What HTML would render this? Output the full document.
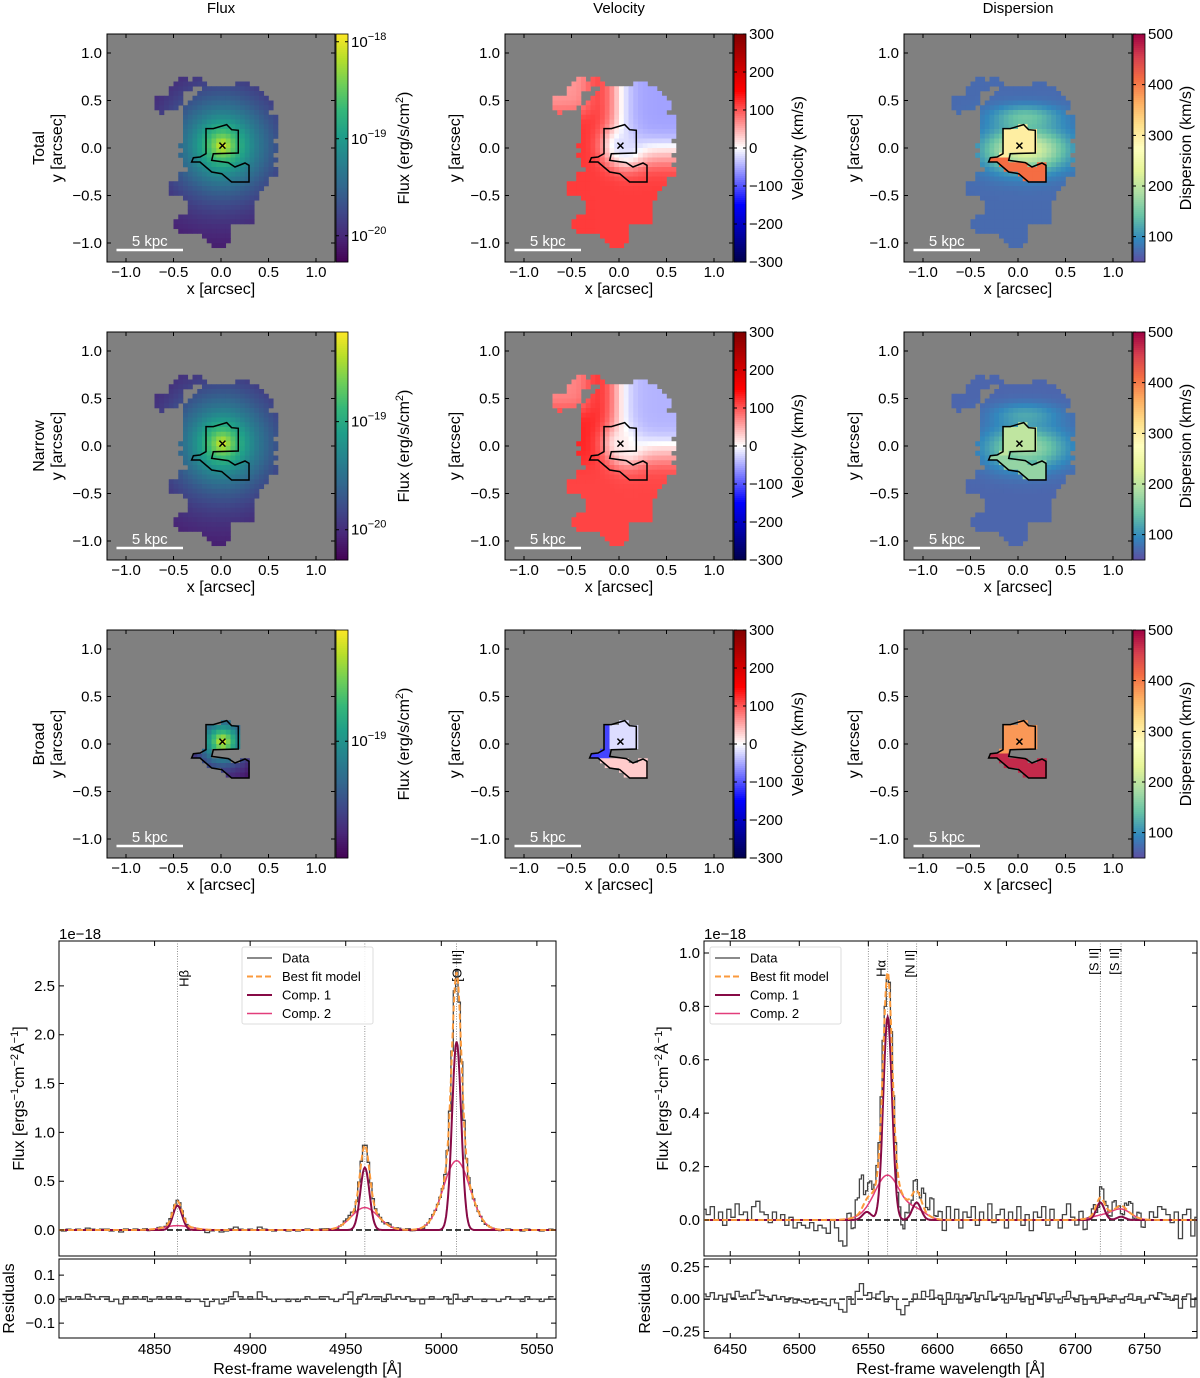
<!DOCTYPE html>
<html><head><meta charset="utf-8"><style>
html,body{margin:0;padding:0;background:#fff;}
svg{display:block;font-family:"Liberation Sans",sans-serif;}
</style></head><body>
<svg id="fig" xmlns="http://www.w3.org/2000/svg" width="1200" height="1378" viewBox="0 0 1200 1378">
<rect x="0" y="0" width="1200" height="1378" fill="#fff"/>
<defs>
<clipPath id="clipL"><rect x="59" y="941" width="497" height="315"/></clipPath>
<clipPath id="clipR"><rect x="704" y="941" width="493" height="315"/></clipPath>
<clipPath id="clipLr"><rect x="59" y="1259" width="497" height="79"/></clipPath>
<clipPath id="clipRr"><rect x="704" y="1259" width="493" height="79"/></clipPath>
</defs>
</svg>
<script>
// ---------------- DATA ----------------
const MASK_ROW_START = 9;
const MASK_RUNS = [
 [[15,16],[18,19]],
 [[14,17],[18,20],[27,29]],
 [[13,17],[20,31]],
 [[13,15],[19,32]],
 [[10,15],[18,33]],
 [[10,15],[17,34]],
 [[10,14],[16,34]],
 [[11,11],[16,33]],
 [[16,35]],[[16,35]],[[16,35]],[[16,35]],[[16,35]],
 [[16,34]],[[15,35]],[[16,35]],[[15,34]],[[16,35]],[[16,34]],[[17,35]],
 [[15,35]],[[15,33]],[[13,33]],[[13,32]],[[13,31]],[[16,31]],
 [[17,30]],[[17,30]],[[17,30]],[[15,30]],[[14,30]],[[14,25]],[[15,25]],
 [[20,25]],[[21,25]],[[22,24]]
];
const CONTOUR_X = [-0.158,-0.081,0.060,0.112,0.182,0.182,-0.081,-0.098,0.077,0.147,0.253,0.295,0.295,0.112,0.007,-0.098,-0.221,-0.309,-0.291,-0.221,-0.158];
const CONTOUR_Y = [0.204,0.204,0.246,0.193,0.186,-0.053,-0.060,-0.130,-0.154,-0.200,-0.158,-0.182,-0.358,-0.358,-0.270,-0.253,-0.147,-0.147,-0.102,-0.095,-0.060];
const CENTER = [0.015, 0.025];
const FLUX_PROFILE_TOTAL = [-20.25, -17.98, 0.42, 1.0];
const FLUX_PROFILE_NARROW = [-20.25, -18.25, 0.42, 1.0];
const FLUX_PROFILE_BROAD = [-19.65, -18.45, 0.22, 1.3];
const FLUX_CB_RANGES = [[-20.27,-17.92],[-20.28,-18.17],[-19.63,-18.4]];
const FLUX_TICKS = [[-18,-19,-20],[-19,-20],[-19]];
// velocity: lower, upper-left, arm, upper-right, center
const VEL_TOTAL = [115, 120, 60, -55, -20];
const VEL_NARROW = [110, 130, 70, -45, 10];
const VEL_BROAD = [-110, -20, 30];
const VEL_TICKS = [300,200,100,0,-100,-200,-300];
// dispersion: base, upper belt, central band, inside contour, contour tail
const DISP_TOTAL = [72, 140, 230, 300, 410];
const DISP_NARROW = [68, 115, 175, 200, 170];
const DISP_BROAD = [380, 470];
const DISP_TICKS = [100,200,300,400,500];
const MAP_TICKS = [-1.0,-0.5,0.0,0.5,1.0];
const MAP_TICK_LABELS = ["\u22121.0","\u22120.5","0.0","0.5","1.0"];

const L_LINES = [4862, 4960, 5008];
const L_COMP1_AMP = [0.25, 0.64, 1.93];
const L_COMP2_AMP = [0.045, 0.23, 0.71];
const L_COMP1_SIG = [2.4, 2.4, 2.4];
const L_COMP2_SIG = [7.0, 7.0, 7.0];
const L_MARK_WL = [4862, 4960, 5008];
const L_MARK_LABELS = ["H\u03b2", "", "[O III]"];
const L_XTICKS = [4850, 4900, 4950, 5000, 5050];
const L_YTICKS = [0.0, 0.5, 1.0, 1.5, 2.0, 2.5];
const L_RTICKS = [-0.1, 0.0, 0.1];
const L_RES_START = 4800, L_RES_STEP = 2.5;
const L_RESID = [0.00,-0.01,0.01,0.00,0.01,0.00,0.02,0.01,0.00,0.01,
0.01,-0.01,0.00,-0.02,0.01,0.00,0.01,0.00,0.01,-0.01,
0.00,0.01,0.00,0.01,0.00,0.01,0.00,-0.01,0.00,0.00,
-0.01,-0.03,-0.01,0.00,-0.02,-0.01,0.01,0.03,0.01,0.00,
0.01,0.00,0.03,0.01,0.00,-0.01,0.00,0.00,-0.01,0.00,
-0.01,0.00,0.01,0.00,0.00,0.01,0.01,0.00,-0.01,0.00,
0.02,0.03,-0.02,0.01,0.02,0.00,0.01,0.01,-0.01,0.02,
0.00,0.01,0.00,0.01,-0.01,0.00,-0.02,0.00,0.01,0.00,
0.00,0.01,-0.02,0.02,0.00,-0.01,0.01,0.00,0.00,-0.01,
0.00,0.00,-0.01,0.00,0.01,0.00,0.00,-0.01,0.01,0.00,
0.00,-0.01,0.00,0.01];

const R_LINES = [6549, 6564, 6585, 6718, 6733];
const R_COMP1_AMP = [0.03, 0.76, 0.065, 0.065, 0.012];
const R_COMP2_AMP = [0.01, 0.165, 0.035, 0.015, 0.04];
const R_COMP1_SIG = [3.2, 3.2, 3.2, 3.0, 3.0];
const R_COMP2_SIG = [9.0, 9.0, 7.0, 7.0, 7.0];
const R_MARK_WL = [6550, 6564, 6585, 6718, 6733];
const R_MARK_LABELS = ["", "H\u03b1", "[N II]", "[S II]", "[S II]"];
const R_XTICKS = [6450, 6500, 6550, 6600, 6650, 6700, 6750];
const R_YTICKS = [0.0, 0.2, 0.4, 0.6, 0.8, 1.0];
const R_RTICKS = [-0.25, 0.0, 0.25];
const R_RES_START = 6431, R_RES_STEP = 3;
const R_RESID = [0.04,0.02,0.05,0.00,0.03,-0.02,0.04,0.01,0.06,0.02,
0.03,0.00,0.05,0.07,0.03,0.02,-0.01,0.03,0.00,0.02,
-0.02,0.01,-0.03,-0.01,-0.02,-0.03,-0.01,-0.04,-0.02,-0.03,
-0.05,0.00,-0.03,-0.08,-0.10,0.02,-0.04,0.06,0.12,0.03,
0.05,0.01,0.04,0.06,-0.02,0.02,0.00,-0.08,-0.12,-0.05,
-0.02,0.04,0.00,0.06,0.02,0.07,0.01,0.03,-0.04,0.05,
0.00,0.04,-0.03,0.03,0.01,0.05,-0.02,0.03,0.00,0.06,
-0.01,0.02,0.04,-0.03,0.03,0.00,0.05,-0.02,0.02,-0.04,
0.03,0.01,0.05,-0.02,0.04,0.00,-0.03,0.02,0.06,0.01,
-0.02,0.03,-0.04,0.00,0.02,-0.03,0.04,0.01,-0.02,0.03,
0.00,-0.03,0.02,0.04,-0.01,0.02,-0.03,0.00,0.03,0.01,
0.05,0.04,0.02,-0.01,0.03,-0.07,0.02,0.04,-0.06,0.01];

// ---------------- HELPERS ----------------
const NS = 'http://www.w3.org/2000/svg';
const svg = document.getElementById('fig');
function mk(tag, attrs, parent) {
  const e = document.createElementNS(NS, tag);
  for (const k in attrs) e.setAttribute(k, attrs[k]);
  (parent || svg).appendChild(e);
  return e;
}
function txt(s, x, y, size, anchor, parent, rot, fill) {
  const t = mk('text', {x: x, y: y, 'font-size': size, 'text-anchor': anchor || 'middle', fill: fill || '#000'}, parent);
  if (rot) t.setAttribute('transform', 'rotate(' + rot + ' ' + x + ' ' + y + ')');
  t.textContent = s;
  return t;
}
function lerpStops(stops, t) {
  t = Math.max(0, Math.min(1, t));
  const n = stops.length - 1, f = t * n, i = Math.min(n - 1, Math.floor(f)), u = f - i;
  const h = s => [parseInt(s.substr(1,2),16), parseInt(s.substr(3,2),16), parseInt(s.substr(5,2),16)];
  const A = h(stops[i]), B = h(stops[i + 1]);
  return 'rgb(' + A.map((v, k) => Math.round(v + (B[k] - v) * u)).join(',') + ')';
}
const VIRIDIS = ['#440154','#482878','#3e4989','#31688e','#26828e','#1f9e89','#35b779','#6ece58','#b5de2b','#fde725'];
const SEISMIC = ['#00004c','#0000ff','#ffffff','#ff0000','#800000'];
const SPECTRAL_R = ['#5e4fa2','#3288bd','#66c2a5','#abdda4','#e6f598','#ffffbf','#fee08b','#fdae61','#f46d43','#d53e4f','#9e0142'];

function inContour(x, y) {
  let ins = false;
  for (let i = 0, j = CONTOUR_X.length - 1; i < CONTOUR_X.length; j = i++) {
    const xi = CONTOUR_X[i], yi = CONTOUR_Y[i], xj = CONTOUR_X[j], yj = CONTOUR_Y[j];
    if (((yi > y) !== (yj > y)) && (x < (xj - xi) * (y - yi) / (yj - yi) + xi)) ins = !ins;
  }
  return ins;
}
function inMask(c, r) {
  const runs = MASK_RUNS[r - MASK_ROW_START];
  if (!runs) return false;
  return runs.some(rr => c >= rr[0] && c <= rr[1]);
}
function sq(v) { return v * v; }
function logFlux(p, x, y) {
  const d = Math.hypot(x - CENTER[0], y - CENTER[1]);
  return p[0] + (p[1] - p[0]) * Math.exp(-Math.pow(d / p[2], p[3]));
}
function sigm(z) { return 1 / (1 + Math.exp(-z)); }
function velRegion(v, x, y) {
  const wLow = sigm(-(y + 0.17) / 0.06);
  const wLeft = sigm(-(x + 0.02) / 0.07);
  const wArm = sigm((y - 0.38) / 0.05) * sigm(-(x + 0.32) / 0.05);
  let up = wLeft * v[1] + (1 - wLeft) * v[3];
  up = wArm * v[2] + (1 - wArm) * up;
  const mid = sigm((x - 0.18) / 0.06) * sigm(-(y - 0.02) / 0.06);
  up = mid * 40 + (1 - mid) * up;
  const val = wLow * v[0] + (1 - wLow) * up;
  const dc = Math.hypot(x - CENTER[0], y - CENTER[1]);
  const wc = Math.exp(-sq(dc / 0.18));
  return wc * v[4] + (1 - wc) * val;
}
function dispRegion(d, x, y) {
  if (inContour(x, y)) return y < -0.08 ? d[4] : d[3];
  const band = Math.exp(-sq((x - 0.08) / 0.42) - sq((y + 0.02) / 0.22));
  const belt = Math.exp(-sq((x - 0.08) / 0.35) - sq((y - 0.33) / 0.12));
  return d[0] + (d[2] - d[0]) * band + (d[1] - d[0]) * belt * (1 - band);
}

// ---------------- MAPS ----------------
const COL_X = [107, 505, 904];
const ROW_Y = [34, 332, 630];
const MW = 228;
const ROW_NAMES = ['Total', 'Narrow', 'Broad'];
const COL_TITLES = ['Flux', 'Velocity', 'Dispersion'];

COL_TITLES.forEach((s, i) => {
  const t = txt(s, COL_X[i] + 114, 13, 15, 'middle');
  
  
});

function drawMap(ci, ri) {
  const ax = COL_X[ci], ay = ROW_Y[ri];
  const g = mk('g', {});
  
  
  const px = x => ax + (x + 1.2) / 2.4 * MW;
  const py = y => ay + (1.2 - y) / 2.4 * MW;
  const bg = mk('rect', {x: ax, y: ay, width: MW, height: MW, fill: '#808080'}, g);
  
  
  let range, cmap;
  if (ci === 0) { range = FLUX_CB_RANGES[ri]; cmap = VIRIDIS; }
  else if (ci === 1) { range = [-300, 300]; cmap = SEISMIC; }
  else { range = [50, 500]; cmap = SPECTRAL_R; }
  const cw = MW / 48;
  for (let r = 0; r < 48; r++) {
    for (let c = 0; c < 48; c++) {
      const x = -1.2 + (c + 0.5) * 0.05, y = 1.2 - (r + 0.5) * 0.05;
      const on = ri === 2 ? inContour(x, y) : inMask(c, r);
      if (!on) continue;
      let v;
      if (ci === 0) v = logFlux(ri === 0 ? FLUX_PROFILE_TOTAL : ri === 1 ? FLUX_PROFILE_NARROW : FLUX_PROFILE_BROAD, x, y);
      else if (ci === 1) {
        if (ri === 2) v = (y < -0.15 ? VEL_BROAD[2] : (x < -0.08 ? VEL_BROAD[0] : VEL_BROAD[1]));
        else v = velRegion(ri === 0 ? VEL_TOTAL : VEL_NARROW, x, y);
      } else {
        if (ri === 2) v = y < -0.08 ? DISP_BROAD[1] : DISP_BROAD[0];
        else v = dispRegion(ri === 0 ? DISP_TOTAL : DISP_NARROW, x, y);
      }
      const t = (v - range[0]) / (range[1] - range[0]);
      const cell = mk('rect', {x: (ax + c * cw).toFixed(2), y: (ay + r * cw).toFixed(2), width: (cw + 0.3).toFixed(2), height: (cw + 0.3).toFixed(2), fill: lerpStops(cmap, t)}, g);
      
      
    }
  }
  const pts = CONTOUR_X.map((x, i) => px(x).toFixed(1) + ',' + py(CONTOUR_Y[i]).toFixed(1)).join(' ');
  const ct = mk('polygon', {points: pts, fill: 'none', stroke: '#000', 'stroke-width': 1.5}, g);
  
  
  const cx = px(CENTER[0]), cy = py(CENTER[1]);
  const cr = mk('path', {d: `M${cx-3},${cy-3}L${cx+3},${cy+3}M${cx-3},${cy+3}L${cx+3},${cy-3}`, stroke: '#000', 'stroke-width': 1.5}, g);
  
  
  const sb = mk('line', {x1: px(-1.1), x2: px(-0.4), y1: ay + 216, y2: ay + 216, stroke: '#fff', 'stroke-width': 2.5}, g);
  
  
  const sbt = txt('5 kpc', (px(-1.1) + px(-0.4)) / 2, ay + 212, 15, 'middle', g, 0, '#fff');
  
  
  const fr = mk('rect', {x: ax, y: ay, width: MW, height: MW, fill: 'none', stroke: '#000', 'stroke-width': 1}, g);
  
  
  MAP_TICKS.forEach((tv, i) => {
    const X = px(tv), Y = py(tv);
    const tk = mk('path', {d: `M${X},${ay+MW}v-4M${X},${ay}v4M${ax},${Y}h4M${ax+MW},${Y}h-4`, stroke: '#000', 'stroke-width': 1}, g);
    
    
    const xl = txt(MAP_TICK_LABELS[i], X, ay + MW + 15, 15, 'middle', g);
    
    
    const yl = txt(MAP_TICK_LABELS[i], ax - 5, Y + 5, 15, 'end', g);
    
    
  });
  const xt = txt('x [arcsec]', ax + 114, ay + MW + 32, 16, 'middle', g);
  
  
  const yt = txt('y [arcsec]', ax - 45, ay + 114, 16, 'middle', g, -90);
  
  
  if (ci === 0) {
    const rl = txt(ROW_NAMES[ri], ax - 63, ay + 114, 16, 'middle', g, -90);
    
    
  }
  const cbx = ax + MW + 1, cbw = 12;
  const cbg = mk('g', {}, g);
  
  
  for (let k = 0; k < MW; k += 2) {
    const t = 1 - (k + 1) / MW;
    const s = mk('rect', {x: cbx, y: ay + k, width: cbw, height: 2.4, fill: lerpStops(cmap, t)}, cbg);
    
    
  }
  const cbf = mk('rect', {x: cbx, y: ay, width: cbw, height: MW, fill: 'none', stroke: '#000', 'stroke-width': 0.8}, cbg);
  
  
  const cy2 = v => ay + (range[1] - v) / (range[1] - range[0]) * MW;
  const ticks = ci === 0 ? FLUX_TICKS[ri] : ci === 1 ? VEL_TICKS : DISP_TICKS;
  ticks.forEach(tv => {
    const Y = cy2(tv);
    const tk = mk('path', {d: `M${cbx},${Y}h3M${cbx+cbw},${Y}h-3`, stroke: '#000', 'stroke-width': 1}, cbg);
    
    
    let lab;
    if (ci === 0) {
      lab = mk('text', {x: cbx + cbw + 3, y: Y + 5, 'font-size': 15}, cbg);
      lab.textContent = '10';
      const sp = mk('tspan', {dy: -7, 'font-size': 11}, lab);
      sp.textContent = '\u2212' + Math.abs(tv);
    } else {
      lab = txt(tv < 0 ? '\u2212' + Math.abs(tv) : String(tv), cbx + cbw + 3, Y + 5, 15, 'start', cbg);
    }
    
    
  });
  let cl;
  if (ci === 0) {
    cl = mk('text', {x: ax + 302, y: ay + 114, 'font-size': 16, 'text-anchor': 'middle', transform: `rotate(-90 ${ax+302} ${ay+114})`}, g);
    cl.appendChild(document.createTextNode('Flux (erg/s/cm'));
    const sp = mk('tspan', {dy: -6, 'font-size': 11}, cl); sp.textContent = '2';
    const sp2 = mk('tspan', {dy: 6}, cl); sp2.textContent = ')';
  } else if (ci === 1) {
    cl = txt('Velocity (km/s)', ax + 298, ay + 114, 16, 'middle', g, -90);
  } else {
    cl = txt('Dispersion (km/s)', ax + 287, ay + 114, 16, 'middle', g, -90);
  }
  
  
}
for (let ri = 0; ri < 3; ri++) for (let ci = 0; ci < 3; ci++) drawMap(ci, ri);

// ---------------- SPECTRA ----------------
function gauss(x, a, m, s) { return a * Math.exp(-0.5 * sq((x - m) / s)); }
function drawSpectrum(cfg) {
  const g = mk('g', {});
  
  
  const X = w => cfg.x0 + (w - cfg.w0) / (cfg.w1 - cfg.w0) * (cfg.x1 - cfg.x0);
  const Y = f => cfg.y1 - (f - cfg.f0) / (cfg.f1 - cfg.f0) * (cfg.y1 - cfg.y0);
  const RY = f => cfg.ry1 - (f - cfg.r0) / (cfg.r1 - cfg.r0) * (cfg.ry1 - cfg.ry0);
  const c1 = w => cfg.lines.reduce((s, m, i) => s + gauss(w, cfg.a1[i], m, cfg.s1[i]), 0);
  const c2 = w => cfg.lines.reduce((s, m, i) => s + gauss(w, cfg.a2[i], m, cfg.s2[i]), 0);
  const model = w => c1(w) + c2(w);
  const f1 = mk('rect', {x: cfg.x0, y: cfg.y0, width: cfg.x1 - cfg.x0, height: cfg.y1 - cfg.y0, fill: 'none', stroke: '#000', 'stroke-width': 1}, g);
  
  
  const f2 = mk('rect', {x: cfg.x0, y: cfg.ry0, width: cfg.x1 - cfg.x0, height: cfg.ry1 - cfg.ry0, fill: 'none', stroke: '#000', 'stroke-width': 1}, g);
  
  
  cfg.markWl.forEach((w, i) => {
    const l = mk('line', {x1: X(w), x2: X(w), y1: cfg.y0, y2: cfg.y1, stroke: '#777', 'stroke-width': 0.8, 'stroke-dasharray': '1,1.5'}, g);
    
    
    if (cfg.markLab[i]) {
      const t = txt(cfg.markLab[i], X(w) + cfg.labDx[i], cfg.labY[i], 13, 'end', g, -90);
      
      
    }
  });
  const z = mk('line', {x1: cfg.x0, x2: cfg.x1, y1: Y(0), y2: Y(0), stroke: '#000', 'stroke-width': 1.5, 'stroke-dasharray': '6,3'}, g);
  
  
  let d = '', rd = '';
  const fine = cfg.rstep / 2;
  const nFine = cfg.resid.length * 2;
  for (let k = 0; k < nFine; k++) {
    const i = Math.floor(k / 2);
    const r = cfg.resid[i];
    const w = cfg.rs - cfg.rstep / 2 + (k + 0.5) * fine;
    const xa = X(w - fine / 2), xb = X(w + fine / 2);
    const yv = Y(model(w) + r);
    d += (k === 0 ? 'M' + xa.toFixed(1) + ',' + yv.toFixed(1) : 'V' + yv.toFixed(1)) + 'H' + xb.toFixed(1);
  }
  cfg.resid.forEach((r, i) => {
    const w = cfg.rs + i * cfg.rstep;
    const xa = X(w - cfg.rstep / 2), xb = X(w + cfg.rstep / 2);
    const ry = RY(r);
    rd += (i === 0 ? 'M' + xa.toFixed(1) + ',' + ry.toFixed(1) : 'V' + ry.toFixed(1)) + 'H' + xb.toFixed(1);
  });
  const gc = mk('g', {'clip-path': 'url(#' + cfg.clip + ')'}, g);
  const dp = mk('path', {d: d, fill: 'none', stroke: '#444', 'stroke-width': 1.3}, gc);
  
  
  const curve = fn => {
    let p = '';
    for (let w = cfg.w0; w <= cfg.w1; w += 0.5) p += (p ? 'L' : 'M') + X(w).toFixed(1) + ',' + Y(fn(w)).toFixed(1);
    return p;
  };
  const p2 = mk('path', {d: curve(c2), fill: 'none', stroke: '#e23d7b', 'stroke-width': 1.5}, gc);
  
  
  const p1 = mk('path', {d: curve(c1), fill: 'none', stroke: '#870a46', 'stroke-width': 2}, gc);
  
  
  const pm = mk('path', {d: curve(model), fill: 'none', stroke: '#fb9a3c', 'stroke-width': 2, 'stroke-dasharray': '6,3'}, gc);
  
  
  const rz = mk('line', {x1: cfg.x0, x2: cfg.x1, y1: RY(0), y2: RY(0), stroke: '#000', 'stroke-width': 1.2, 'stroke-dasharray': '6,3'}, g);
  
  
  const grc = mk('g', {'clip-path': 'url(#' + cfg.rclip + ')'}, g);
  const rp = mk('path', {d: rd, fill: 'none', stroke: '#444', 'stroke-width': 1.3}, grc);
  
  
  cfg.xticks.forEach(w => {
    const x = X(w);
    const tk = mk('path', {d: `M${x},${cfg.y0}v5M${x},${cfg.y1}v-5M${x},${cfg.ry0}v5M${x},${cfg.ry1}v-5`, stroke: '#000', 'stroke-width': 1}, g);
    
    
    const t = txt(String(w), x, cfg.ry1 + 16, 15, 'middle', g);
    
    
  });
  cfg.yticks.forEach(v => {
    const y = Y(v);
    const tk = mk('path', {d: `M${cfg.x0},${y}h5M${cfg.x1},${y}h-5`, stroke: '#000', 'stroke-width': 1}, g);
    
    
    const t = txt(v.toFixed(1), cfg.x0 - 4, y + 5, 15, 'end', g);
    
    
  });
  cfg.rticks.forEach(v => {
    const y = RY(v);
    const tk = mk('path', {d: `M${cfg.x0},${y}h5M${cfg.x1},${y}h-5`, stroke: '#000', 'stroke-width': 1}, g);
    
    
    const str = v.toFixed(cfg.rdec);
    const t = txt(v < 0 ? '\u2212' + str.slice(1) : str, cfg.x0 - 4, y + 5, 15, 'end', g);
    
    
  });
  const off = txt('1e\u221218', cfg.x0, cfg.y0 - 2, 15, 'start', g);
  
  
  const yl = mk('text', {x: cfg.ylx, y: (cfg.y0 + cfg.y1) / 2, 'font-size': 16, 'text-anchor': 'middle', transform: `rotate(-90 ${cfg.ylx} ${(cfg.y0 + cfg.y1) / 2})`}, g);
  yl.appendChild(document.createTextNode('Flux [ergs'));
  let sp = mk('tspan', {dy: -6, 'font-size': 11}, yl); sp.textContent = '\u22121';
  sp = mk('tspan', {dy: 6}, yl); sp.textContent = 'cm';
  sp = mk('tspan', {dy: -6, 'font-size': 11}, yl); sp.textContent = '\u22122';
  sp = mk('tspan', {dy: 6}, yl); sp.textContent = '\u00c5';
  sp = mk('tspan', {dy: -6, 'font-size': 11}, yl); sp.textContent = '\u22121';
  sp = mk('tspan', {dy: 6}, yl); sp.textContent = ']';
  
  
  const rl = txt('Residuals', cfg.rlx, (cfg.ry0 + cfg.ry1) / 2, 16, 'middle', g, -90);
  
  
  const xl = txt('Rest-frame wavelength [\u00c5]', (cfg.x0 + cfg.x1) / 2, 1374, 16, 'middle', g);
  
  
  const lg = mk('g', {}, g);
  
  
  const lb = mk('rect', {x: cfg.lgx, y: 947, width: 131, height: 77, rx: 2, fill: '#fff', 'fill-opacity': 0.85, stroke: '#ddd', 'stroke-width': 1}, lg);
  
  
  const ents = [['Data', '#444', '', 1.3], ['Best fit model', '#fb9a3c', '6,3', 2], ['Comp. 1', '#870a46', '', 2], ['Comp. 2', '#e23d7b', '', 1.5]];
  ents.forEach((e, i) => {
    const y = 958 + i * 18.5;
    const ln = mk('line', {x1: cfg.lgx + 5, x2: cfg.lgx + 30, y1: y, y2: y, stroke: e[1], 'stroke-width': e[3], 'stroke-dasharray': e[2] || 'none'}, lg);
    
    
    const t = txt(e[0], cfg.lgx + 40, y + 4.5, 13, 'start', lg);
    
    
  });
}
drawSpectrum({name: 'spectrum-hbeta-oiii', x0: 59, x1: 556, y0: 941, y1: 1256, ry0: 1259, ry1: 1338,
  w0: 4800, w1: 5060, f0: -0.266, f1: 2.96, r0: -0.162, r1: 0.167, rdec: 1,
  lines: L_LINES, a1: L_COMP1_AMP, a2: L_COMP2_AMP, s1: L_COMP1_SIG, s2: L_COMP2_SIG,
  markWl: L_MARK_WL, markLab: L_MARK_LABELS, labDx: [11, 0, 5], labY: [970, 950, 950],
  xticks: L_XTICKS, yticks: L_YTICKS, rticks: L_RTICKS,
  resid: L_RESID, rs: L_RES_START, rstep: L_RES_STEP, clip: 'clipL', rclip: 'clipLr', ylx: 24, rlx: 14, lgx: 242});
drawSpectrum({name: 'spectrum-halpha-nii-sii', x0: 704, x1: 1197, y0: 941, y1: 1256, ry0: 1259, ry1: 1338,
  w0: 6431, w1: 6788, f0: -0.135, f1: 1.045, r0: -0.30, r1: 0.31, rdec: 2,
  lines: R_LINES, a1: R_COMP1_AMP, a2: R_COMP2_AMP, s1: R_COMP1_SIG, s2: R_COMP2_SIG,
  markWl: R_MARK_WL, markLab: R_MARK_LABELS, labDx: [0, -2, -2, -2, -2], labY: [950, 960, 950, 948, 948],
  xticks: R_XTICKS, yticks: R_YTICKS, rticks: R_RTICKS,
  resid: R_RESID, rs: R_RES_START, rstep: R_RES_STEP, clip: 'clipR', rclip: 'clipRr', ylx: 668, rlx: 650, lgx: 710});
</script>
</body></html>
